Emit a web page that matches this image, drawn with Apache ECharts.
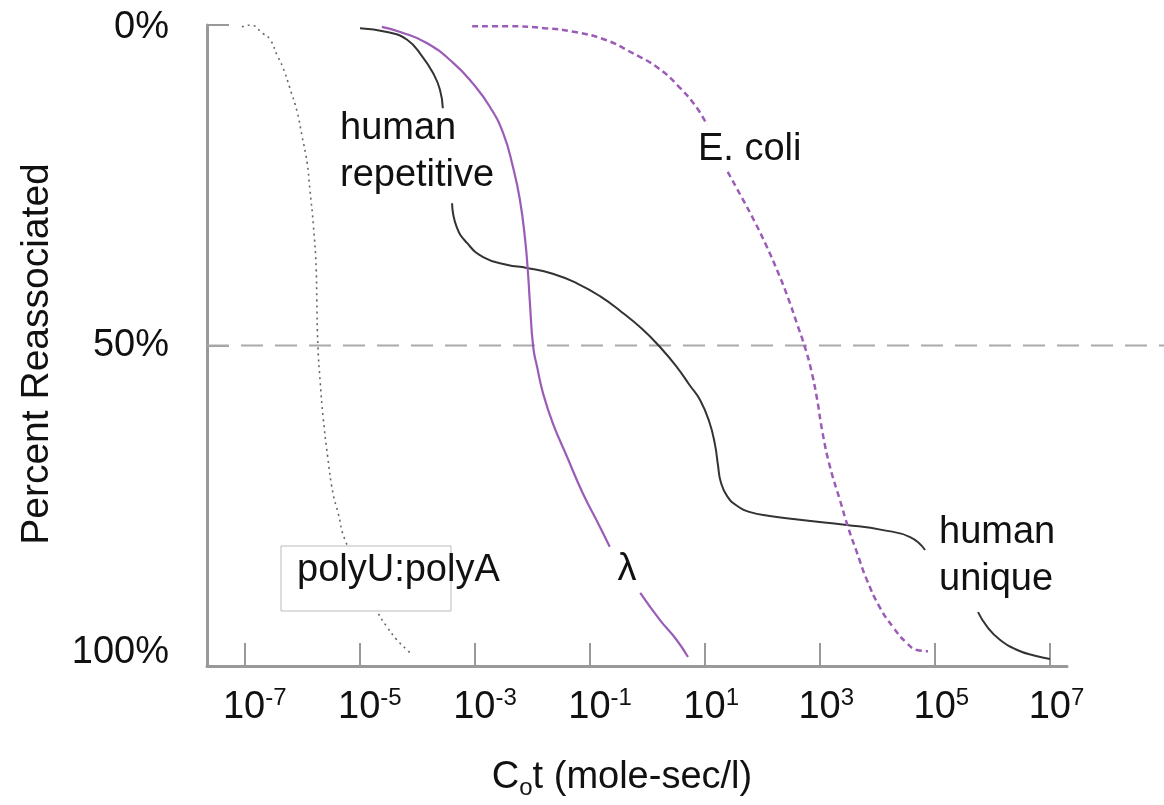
<!DOCTYPE html>
<html>
<head>
    <meta charset="utf-8"/>
    <title>Cot curves</title>
</head>
<body style="margin:0;background:#fff;">

<div id="main" style="width: 1164px;height:805px;"></div>

<script src="https://cdn.jsdelivr.net/npm/echarts@6.0.0/dist/echarts.min.js"></script>
<script>
    // x values are log10(Cot), y values are percent reassociated; null = break in the curve
    var xTicks = [-7, -5, -3, -1, 1, 3, 5, 7];
    var yTicks = [0, 50, 100];

    var polyX = [-7.04, -6.90, -6.68, -6.55, -6.43, -6.33, -6.21, -6.08, -6.00, -5.91, -5.86, -5.80, -5.75, -5.74, -5.72, -5.68, -5.63, -5.55, -5.46, -5.37, -5.25, -4.68, -4.52, -4.35, -4.17, -4.07];
    var polyY = [0.3, 0, 1.3, 2.3, 4.7, 6.6, 9.8, 13.6, 17.2, 21.4, 25.7, 31.2, 38.2, 42.9, 50.2, 55.8, 61.2, 67.4, 73.0, 76.1, 80.3, 91.6, 93.9, 95.9, 97.5, 98.3];

    var humanX = [-4.99, -4.52, -4.17, -3.90, -3.72, -3.60, -3.55, null,
        -3.39, -3.31, -3.13, -2.85, -2.44, -2.09, -1.64, -1.22, -0.82, -0.44, -0.09, 0.22, 0.52, 0.74, 0.92,
        1.08, 1.18, 1.23, 1.28, 1.39, 1.56, 1.79, 2.13, 2.65, 3.47, 4.10, 4.57, 4.83, null,
        5.75, 5.91, 6.13, 6.43, 6.74, 7.0];
    var humanY = [0.5, 1.1, 2.3, 5.0, 7.5, 10.1, 13.0, null,
        27.8, 31.5, 34.0, 36.2, 37.4, 37.9, 38.8, 40.3, 42.3, 44.8, 47.4, 50.2, 53.4, 56.2, 58.5,
        61.9, 65.5, 68.6, 71.3, 73.5, 75.0, 76.0, 76.6, 77.2, 78.0, 78.8, 79.9, 81.9, null,
        91.6, 93.9, 95.9, 97.5, 98.4, 98.9];

    var lambdaX = [-4.61, -4.29, -3.83, -3.37, -3.03, -2.73, -2.50, -2.33, -2.21, -2.12, -2.07, -2.04, -1.98, -1.91, -1.81, -1.64, -1.39, -1.12, -0.82, -0.65, null, -0.12, 0.22, 0.51, 0.71];
    var lambdaY = [0.3, 1.1, 2.8, 5.9, 9.1, 12.8, 16.9, 22.2, 27.3, 33.5, 38.7, 42.9, 50.2, 53.4, 57.4, 62.1, 67.4, 73.0, 78.3, 81.4, null, 88.6, 92.8, 95.9, 98.6];

    var ecoliX = [-3.04, -2.38, -1.78, -1.25, -0.73, -0.25, 0.19, 0.57, 0.87, 1.04, null,
        1.40, 1.65, 1.87, 2.08, 2.27, 2.45, 2.60, 2.74, 2.85, 2.95, 3.05, 3.18, 3.35, 3.49, 3.65, 3.82, 4.04, 4.27, 4.51, 4.69, 4.88];
    var ecoliY = [0.2, 0.2, 0.5, 1.1, 2.3, 4.4, 6.7, 9.8, 13.0, 15.6, null,
        22.9, 27.0, 30.7, 34.6, 38.5, 42.6, 46.5, 50.2, 53.8, 58.2, 63.7, 69.0, 74.1, 78.3, 82.4, 86.6, 90.8, 93.9, 96.4, 97.5, 97.7];

    var xMin = -7.648, xMax = 7.296;
    var font = '"Liberation Sans", Arial, Helvetica, sans-serif';

    function pairs(xs, ys) {
        return xs.map(function (x, i) {
            return (x === null || ys[i] === null) ? ['-', '-'] : [x, ys[i]];
        });
    }

    function curve(name, xs, ys, color, width, type) {
        return {
            name: name,
            type: 'line',
            data: pairs(xs, ys),
            showSymbol: false,
            smooth: 0.5,
            connectNulls: false,
            lineStyle: {color: color, width: width, type: type}
        };
    }

    var myChart = echarts.init(document.getElementById('main'));

    var option = {
        animation: false,
        textStyle: {fontFamily: font},
        grid: {left: 207, right: 97, top: 25, bottom: 139},
        xAxis: {
            type: 'value',
            min: xMin,
            max: xMax,
            name: '{c|C}{o|o}{c|t (mole-sec/l)}',
            nameLocation: 'middle',
            nameGap: 90,
            nameTextStyle: {
                padding: [0, 30, 0, 0],
                rich: {
                    c: {fontSize: 38, lineHeight: 44, color: '#111', fontFamily: font},
                    o: {fontSize: 24, lineHeight: 16, verticalAlign: 'bottom', color: '#111', fontFamily: font}
                }
            },
            splitLine: {show: false},
            axisLine: {onZero: false, lineStyle: {color: '#999', width: 3}},
            axisTick: {
                inside: true, length: 23, customValues: xTicks,
                lineStyle: {color: '#999', width: 2}
            },
            axisLabel: {
                customValues: xTicks,
                margin: 20,
                formatter: function (v) {
                    var e = Math.round(v);
                    return '{' + (e < 0 ? 'pn' : 'ps') + '| }{b|10}{s|' + e + '}';
                },
                rich: {
                    b: {fontSize: 38, lineHeight: 44, color: '#111', fontFamily: font},
                    s: {fontSize: 24, lineHeight: 22, verticalAlign: 'top', color: '#111', fontFamily: font},
                    pn: {width: 21, fontSize: 24},
                    ps: {width: 13, fontSize: 24}
                }
            }
        },
        yAxis: {
            type: 'value',
            inverse: true,
            min: 0,
            max: 100,
            interval: 50,
            name: 'Percent Reassociated',
            nameLocation: 'middle',
            nameGap: 150,
            nameTextStyle: {fontSize: 39, color: '#111', padding: [0, 17, 0, 0]},
            splitLine: {show: false},
            axisLine: {onZero: false, lineStyle: {color: '#999', width: 3}},
            axisTick: {inside: true, length: 22, lineStyle: {color: '#999', width: 2}},
            axisLabel: {
                margin: 38,
                formatter: function (v) {
                    if (v === yTicks[0]) return '{t|' + v + '%}';
                    if (v === yTicks[2]) return '{bt|' + v + '%}';
                    return '{m|' + v + '%}';
                },
                rich: {
                    t: {fontSize: 38, color: '#111', padding: [6, 0, 0, 0], fontFamily: font},
                    m: {fontSize: 38, color: '#111', fontFamily: font},
                    bt: {fontSize: 38, color: '#111', padding: [0, 0, 26, 0], fontFamily: font}
                }
            }
        },
        series: [
            curve('polyU:polyA', polyX, polyY, '#666', 1.6, [2, 4]),
            curve('human', humanX, humanY, '#333', 2, 'solid'),
            curve('lambda', lambdaX, lambdaY, '#9b5cb8', 2.2, 'solid'),
            curve('E. coli', ecoliX, ecoliY, '#9b5cb8', 2.5, [6, 4])
        ]
    };

    myChart.setOption(option);

    // 50% guide and curve labels
    var y50 = myChart.convertToPixel({yAxisIndex: 0}, yTicks[1]);
    var x0 = myChart.convertToPixel({xAxisIndex: 0}, xMin);

    function label(text, x, y, align) {
        return {
            type: 'text', x: x, y: y, z: 50,
            style: {
                text: text, fontSize: 38, fontFamily: font, fill: '#111',
                lineHeight: 47, align: align || 'left', verticalAlign: 'middle'
            }
        };
    }

    myChart.setOption({
        graphic: [
            {
                type: 'line', z: 1,
                shape: {x1: x0, y1: y50, x2: 1164, y2: y50},
                style: {stroke: '#aaa', lineWidth: 2, lineDash: [22, 12]}
            },
            {
                type: 'rect', z: 40,
                shape: {x: 281, y: 546, width: 170, height: 65},
                style: {fill: '#fff', stroke: '#bbb', lineWidth: 1}
            },
            label('polyU:polyA', 297, 571),
            label('human\nrepetitive', 340, 152),
            label('E. coli', 698, 150),
            label('human\nunique', 939, 556),
            label('λ', 627, 570, 'center')
        ]
    });
</script>
</body>
</html>
